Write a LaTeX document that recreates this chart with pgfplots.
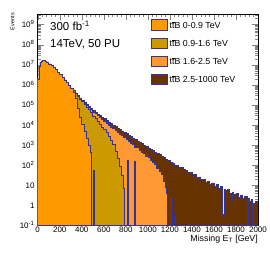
\documentclass[border=0pt]{standalone}
\usepackage{fontspec}
\setmainfont{Liberation Sans}
\usepackage{pgfplots}
\pgfplotsset{compat=1.18}
\definecolor{cA}{RGB}{255,153,0}
\definecolor{cB}{RGB}{204,153,0}
\definecolor{cC}{RGB}{255,153,51}
\definecolor{cD}{RGB}{102,51,0}
\definecolor{ln}{RGB}{51,51,153}
\newcommand{\ttb}{t\hbox{t\llap{\raisebox{0.74em}{\rule{0.27em}{0.055em}}}}B}
\begin{document}
\begin{tikzpicture}
\useasboundingbox (-37.7pt,-33.3pt) rectangle (232.3pt,225.7pt);
\begin{axis}[
  name=ax, at={(0,0)}, anchor=south west,
  scale only axis, width=220.3pt, height=211.7pt,
  xmin=0, xmax=2000, ymin=0.1, ymax=3.4e9,
  ymode=log, log origin=infty,
  const plot mark left,
  axis line style={line width=0.5pt},
  tick align=inside, tick pos=both,
  xtick={0,200,...,2000},
  xticklabels={0,200,400,600,800,1000,1200,1400,1600,1800,2000},
  minor x tick num=4,
  ytick={0.1,1,10,100,1e3,1e4,1e5,1e6,1e7,1e8,1e9},
  yticklabels={10\textsuperscript{-1},1,10,10\textsuperscript{2},10\textsuperscript{3},10\textsuperscript{4},10\textsuperscript{5},10\textsuperscript{6},10\textsuperscript{7},10\textsuperscript{8},10\textsuperscript{9}},
  minor ytick={0.2,0.3,0.4,0.5,0.6,0.7,0.8,0.9,2,3,4,5,6,7,8,9,20,30,40,50,60,70,80,90,200,300,400,500,600,700,800,900,2e3,3e3,4e3,5e3,6e3,7e3,8e3,9e3,2e4,3e4,4e4,5e4,6e4,7e4,8e4,9e4,2e5,3e5,4e5,5e5,6e5,7e5,8e5,9e5,2e6,3e6,4e6,5e6,6e6,7e6,8e6,9e6,2e7,3e7,4e7,5e7,6e7,7e7,8e7,9e7,2e8,3e8,4e8,5e8,6e8,7e8,8e8,9e8,2e9,3e9},
  major tick length=6pt, minor tick length=3pt,
  tick style={line width=0.4pt},
  xticklabel style={font=\fontsize{8}{9}\selectfont, inner sep=0pt, yshift=-1.5pt},
  yticklabel style={font=\fontsize{8}{9}\selectfont, inner sep=0pt, anchor=base east, xshift=-3pt, yshift=-2.9pt},
  reverse legend,
  legend cell align=left,
  legend style={at={(0.514,0.975)}, anchor=north west, draw=none, fill=none,
    font=\fontsize{8.8}{10}\selectfont, row sep=5.5pt, inner sep=0pt},
  legend image code/.code={\draw[#1] (0pt,-4.3pt) rectangle (16pt,6pt);},
]
\addplot[fill=cD, draw=ln, line width=0.6pt] coordinates {
(0,0.01)(0,2.0e6)(10,8.9e6)(20,1.32e7)(30,1.58e7)(40,1.70e7)(50,1.70e7)(60,1.66e7)(70,1.55e7)(80,1.41e7)(90,1.29e7)(100,1.12e7)(120,9.3e6)(140,7.6e6)(160,5.75e6)(180,4.4e6)(200,3.3e6)(220,2.4e6)(240,1.78e6)(260,1.32e6)(280,9.8e5)(300,7.1e5)(320,5.4e5)(340,4.0e5)(360,3.0e5)(380,2.3e5)(400,1.78e5)(420,1.38e5)(440,1.07e5)(460,8.5e4)(480,6.8e4)(500,5.5e4)(520,4.5e4)(540,3.6e4)(560,3.0e4)(580,2.5e4)(600,2.1e4)(620,1.74e4)(640,1.45e4)(660,1.2e4)(680,1.0e4)(700,8.5e3)(720,7.2e3)(740,6.2e3)(760,5.2e3)(780,4.5e3)(800,3.8e3)(820,3.2e3)(840,2.7e3)(860,2.3e3)(880,1.95e3)(900,1.66e3)(920,1.41e3)(940,1.2e3)(960,1020)(980,870)(1000,740)(1020,630)(1040,540)(1060,460)(1080,390)(1100,345)(1120,270)(1140,250)(1160,195)(1180,180)(1200,142)(1220,133)(1240,105)(1260,102)(1280,78)(1300,79)(1320,62)(1340,59)(1360,45)(1380,46)(1400,35)(1420,35)(1440,25)(1460,27)(1480,20)(1500,21)(1520,15)(1540,17)(1560,12)(1580,13.5)(1600,9.5)(1620,11)(1640,7.5)(1660,9)(1680,0.35)(1690,6.5)(1700,5.5)(1720,6.5)(1740,4.2)(1760,1.6)(1770,4.8)(1780,3.6)(1800,4.2)(1820,2.6)(1840,3.4)(1860,2.2)(1880,2.9)(1900,0.01)(1910,2.4)(1920,1.7)(1940,2.1)(1950,0.01)(1960,1.3)(1980,1.6)(1990,0.5)(2000,0.5)(2000,0.01)
} \closedcycle;
\addlegendentry{\ttb\ 2.5-1000 TeV}
\addplot[fill=cC, draw=ln, line width=0.6pt] coordinates {
(0,0.01)(0,2.0e6)(10,8.9e6)(20,1.32e7)(30,1.58e7)(40,1.70e7)(50,1.70e7)(60,1.66e7)(70,1.55e7)(80,1.41e7)(90,1.29e7)(100,1.12e7)(120,9.3e6)(140,7.6e6)(160,5.75e6)(180,4.4e6)(200,3.3e6)(220,2.4e6)(240,1.78e6)(260,1.32e6)(280,9.8e5)(300,7.0e5)(320,5.3e5)(340,3.9e5)(360,2.9e5)(380,2.2e5)(400,1.66e5)(420,1.27e5)(440,9.8e4)(460,7.6e4)(480,6.0e4)(500,4.6e4)(520,3.7e4)(540,2.95e4)(560,2.4e4)(580,1.95e4)(600,1.55e4)(620,1.26e4)(640,1.02e4)(660,8.3e3)(680,6.8e3)(700,5.5e3)(720,4.5e3)(740,3.7e3)(760,3.0e3)(780,2.45e3)(800,2.0e3)(820,1.62e3)(840,1.32e3)(860,1.07e3)(880,820)(900,760)(920,570)(940,430)(960,400)(980,300)(1000,255)(1020,170)(1040,145)(1060,120)(1080,70)(1100,52)(1120,36)(1140,17)(1160,8)(1170,4)(1180,0.01)(1210,2.4)(1220,0.01)(1240,0.35)(1250,0.01)
} \closedcycle;
\addlegendentry{\ttb\ 1.6-2.5 TeV}
\addplot[fill=cB, draw=ln, line width=0.6pt] coordinates {
(0,0.01)(0,2.0e6)(10,8.9e6)(20,1.32e7)(30,1.58e7)(40,1.70e7)(50,1.70e7)(60,1.66e7)(70,1.55e7)(80,1.41e7)(90,1.29e7)(100,1.12e7)(120,9.3e6)(140,7.6e6)(160,5.75e6)(180,4.4e6)(200,3.3e6)(220,2.4e6)(240,1.78e6)(260,1.32e6)(280,9.8e5)(300,6.9e5)(320,5.2e5)(340,3.8e5)(360,2.8e5)(380,2.05e5)(400,1.5e5)(420,1.1e5)(440,8.0e4)(460,5.9e4)(480,4.2e4)(500,2.8e4)(520,2.1e4)(540,1.58e4)(560,1.12e4)(580,8.0e3)(600,6.0e3)(620,4.2e3)(640,2.8e3)(660,1.86e3)(680,1.12e3)(700,500)(720,224)(740,90)(760,32)(780,7)(790,0.01)(810,180)(820,0.01)(880,160)(890,0.01)
} \closedcycle;
\addlegendentry{\ttb\ 0.9-1.6 TeV}
\addplot[fill=cA, draw=ln, line width=0.6pt] coordinates {
(0,0.01)(0,2.0e6)(10,8.9e6)(20,1.32e7)(30,1.58e7)(40,1.70e7)(50,1.70e7)(60,1.66e7)(70,1.55e7)(80,1.41e7)(90,1.29e7)(100,1.12e7)(120,9.3e6)(140,7.6e6)(160,5.75e6)(180,4.4e6)(200,3.3e6)(220,2.4e6)(240,1.78e6)(260,1.32e6)(280,9.5e5)(300,6.5e5)(320,4.2e5)(340,2.2e5)(360,7.1e4)(380,2.5e4)(400,1.05e4)(420,4.8e3)(440,2.2e3)(460,1.0e3)(480,450)(490,0.01)(505,60)(515,0.01)
} \closedcycle;
\addlegendentry{\ttb\ 0-0.9 TeV}
\end{axis}
\node[rotate=90, anchor=east, inner sep=0pt, font=\fontsize{5.5}{6}\selectfont] at (-25.2pt,212.7pt) {Events};
\node[anchor=base west, inner sep=0pt, font=\fontsize{11.5}{13}\selectfont] at (12.3pt,195pt) {300 fb\textsuperscript{-1}};
\node[anchor=base west, inner sep=0pt, font=\fontsize{11.5}{13}\selectfont] at (12.3pt,178pt) {14TeV, 50 PU};
\node[anchor=base east, inner sep=0pt, font=\fontsize{8.8}{10}\selectfont] at (220.3pt,-15.8pt) {Missing E\textsubscript{T} [GeV]};
\end{tikzpicture}
\end{document}
